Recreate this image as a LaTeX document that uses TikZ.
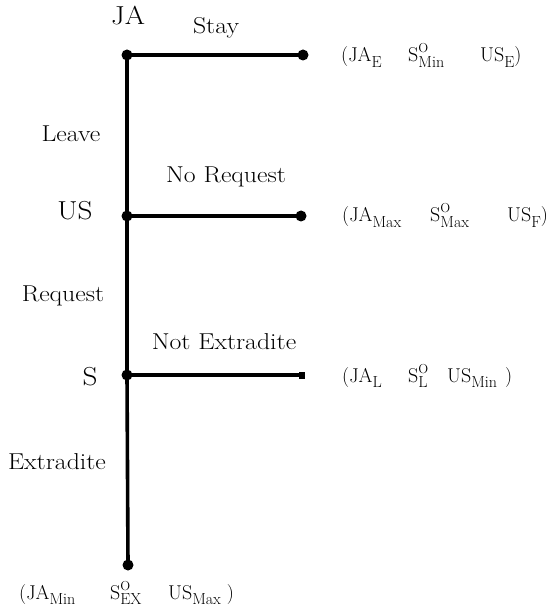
\documentclass[tikz,border=0pt]{standalone}
\usepackage{fontspec}
\setmainfont{Latin Modern Roman}[FakeStretch=1.12]
\newfontfamily\payfont{Latin Modern Roman}
\newcommand\lowsub[1]{\raisebox{-5.5pt}{\fontsize{16}{16}\selectfont #1}}
\newcommand\supsub[2]{\makebox[0pt][l]{\raisebox{9pt}{\fontsize{13}{13}\selectfont #1}}\lowsub{#2}}
\begin{document}
\begin{tikzpicture}[x=1pt,y=-1pt,
  edge/.style={line width=3.6pt},
  dot/.style={circle,fill=black,inner sep=0pt,minimum size=11pt},
  sq/.style={rectangle,fill=black,inner sep=0pt,minimum width=6pt,minimum height=7pt},
  lbl/.style={font=\fontsize{23}{27}\selectfont,inner sep=0pt,anchor=base},
  player/.style={font=\fontsize{26}{30}\selectfont,inner sep=0pt,anchor=base},
  pay/.style={font=\payfont\fontsize{20}{24}\selectfont,inner sep=0pt,anchor=base west}]
\useasboundingbox (0,0) rectangle (556,609);
\node[dot] (ja) at (127,55) {};
\node[dot] (jae) at (303,55) {};
\node[dot] (us) at (127,216) {};
\node[dot] (use) at (301,216) {};
\node[dot] (s) at (127,375) {};
\node[sq] (se) at (302,375) {};
\node[dot] (ex) at (128,565) {};
\draw[edge] (ja.center) -- (jae.center);
\draw[edge] (us.center) -- (use.center);
\draw[edge] (s.center) -- (se.center);
\draw[edge] (ja.center) -- (us.center);
\draw[edge] (us.center) -- (s.center);
\draw[edge] (s.center) -- (ex.center);
\node[player] (lja) at (128,25) {JA};
\node[player] (lus) at (75,220) {US};
\node[player] (ls) at (90,385) {S};
\node[lbl] (stay) at (216,34) {Stay};
\node[lbl] (leave) at (71,142) {Leave};
\node[lbl] (noreq) at (226,183) {No Request};
\node[lbl] (req) at (63,301) {Request};
\node[lbl] (notex) at (224,349) {Not Extradite};
\node[lbl] (extr) at (57,469) {Extradite};
% payoffs
\node[pay] (p1a) at (341,62) {(JA\lowsub{E}};
\node[pay] (p1b) at (408,62) {S\supsub{O}{Min}};
\node[pay] (p1c) at (480,62) {US\lowsub{E})};
\node[pay] (p2a) at (342,222) {(JA\lowsub{Max}};
\node[pay] (p2b) at (430,222) {S\supsub{O}{Max}};
\node[pay] (p2c) at (507,222) {US\lowsub{F})};
\node[pay] (p3a) at (342,382) {(JA\lowsub{L}};
\node[pay] (p3b) at (408,382) {S\supsub{O}{L}};
\node[pay] (p3c) at (447,382) {US\lowsub{Min}\hspace{8pt})};
\node[pay] (p4a) at (19,599) {(JA\lowsub{Min}};
\node[pay] (p4b) at (110,599) {S\supsub{O}{EX}};
\node[pay] (p4c) at (168,599) {US\lowsub{Max}\hspace{6pt})};
\end{tikzpicture}
\end{document}
